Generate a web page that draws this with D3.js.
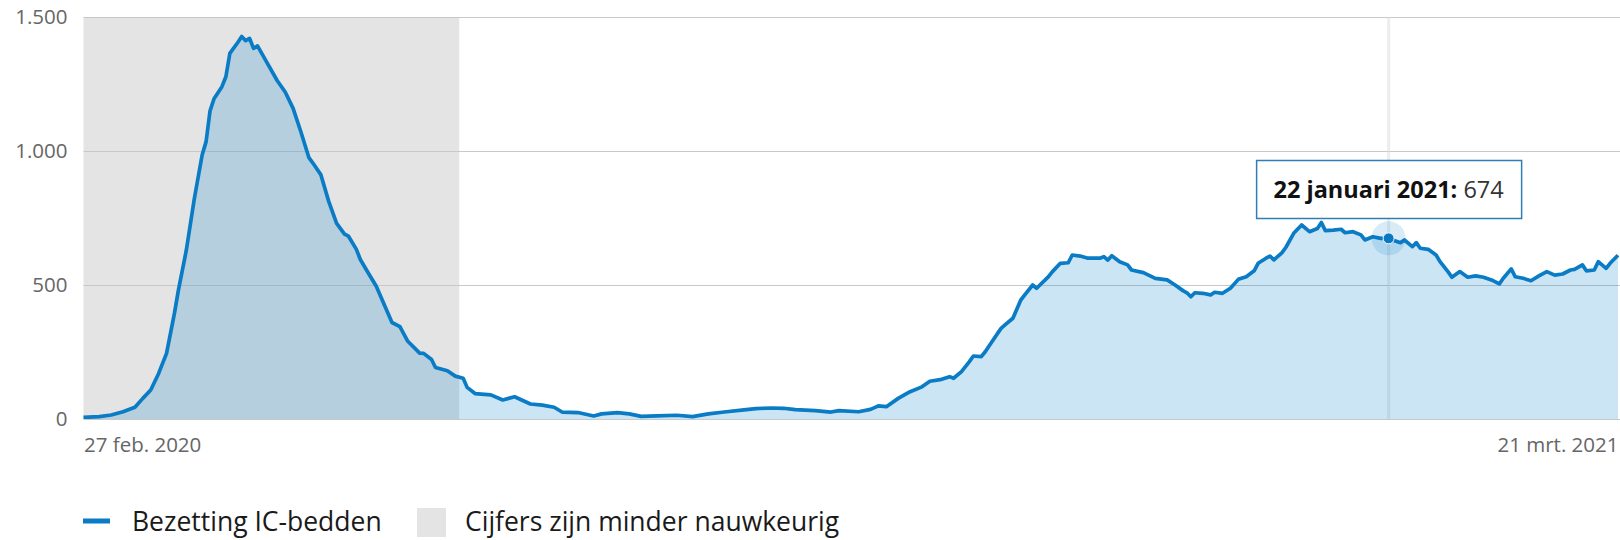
<!DOCTYPE html>
<html>
<head>
<meta charset="utf-8">
<script src="https://cdn.jsdelivr.net/npm/d3@7"></script>
<style>
body { margin: 0; background: #fff; }
text { font-family: "Open Sans", sans-serif; }
</style>
</head>
<body>
<div id="chart"></div>
<script>
// series: IC-bed occupancy, day offset from startDate -> beds
var startDate = "2020-02-27";
var endDate = "2021-03-21";
var dayIndex = [0, 4, 7, 10, 13, 15, 17, 19, 21, 23, 24, 26, 28, 30, 31, 32, 33, 35, 36, 37,
  39, 40, 41, 42, 43, 44, 46, 49, 51, 53, 55, 57, 58, 60, 62, 64, 66, 67, 69, 70,
  72, 74, 76, 78, 80, 82, 85, 86, 88, 89, 92, 94, 96, 97, 99, 103, 106, 109, 113, 116,
  119, 121, 125, 129, 131, 135, 138, 141, 145, 150, 154, 158, 162, 167, 170, 174, 177, 180, 185, 189,
  191, 196, 199, 201, 203, 206, 209, 212, 214, 217, 219, 220, 222, 224, 225, 227, 228, 230, 232, 233,
  235, 237, 238, 240, 241, 244, 245, 247, 249, 250, 252, 254, 257, 258, 259, 260, 262, 264, 265, 268,
  271, 274, 276, 278, 279, 280, 281, 283, 285, 286, 288, 290, 292, 294, 296, 297, 299, 300, 301, 303,
  304, 306, 308, 310, 312, 313, 314, 316, 318, 319, 321, 323, 324, 326, 328, 330, 331, 333, 334, 336,
  337, 338, 340, 342, 343, 345, 346, 348, 350, 352, 354, 356, 358, 359, 361, 362, 364, 366, 368, 370,
  372, 374, 376, 377, 379, 380, 382, 383, 385, 386, 388];
var beds = [6, 9, 15, 27, 44, 77, 108, 170, 245, 395, 481, 630, 820, 985, 1035, 1150, 1195, 1240, 1277, 1364,
  1405, 1427, 1412, 1420, 1383, 1392, 1340, 1262, 1220, 1159, 1070, 975, 955, 912, 812, 730, 690, 682, 633, 595,
  545, 496, 428, 360, 345, 290, 246, 245, 222, 192, 180, 160, 152, 118, 95, 90, 71, 83, 56, 52,
  44, 26, 24, 11, 19, 24, 19, 10, 12, 14, 9, 19, 26, 34, 39, 41, 40, 35, 31, 26,
  31, 27, 36, 49, 46, 77, 102, 120, 141, 148, 158, 152, 177, 214, 235, 233, 251, 295, 338, 351,
  376, 444, 463, 500, 488, 531, 550, 581, 583, 612, 608, 600, 600, 606, 593, 609, 587, 575, 556, 546,
  525, 519, 500, 479, 471, 456, 471, 469, 463, 473, 469, 488, 521, 531, 553, 581, 600, 608, 594, 620,
  640, 693, 724, 699, 711, 733, 703, 705, 708, 695, 699, 687, 668, 680, 674, 674, 668, 658, 668, 643,
  658, 637, 633, 612, 587, 550, 529, 550, 529, 534, 529, 519, 504, 525, 560, 531, 525, 516, 534, 550,
  537, 541, 556, 558, 575, 553, 556, 587, 562, 581, 611];

var inaccurateUntil = "2020-06-01";
var yTicks = [0, 500, 1000, 1500];
var yTickLabels = ["0", "500", "1.000", "1.500"];
var xTickLabels = ["27 feb. 2020", "21 mrt. 2021"];
var legendLabels = ["Bezetting IC-bedden", "Cijfers zijn minder nauwkeurig"];
var hoverDate = "2021-01-22";
var hoverValue = 674;
var hoverLabel = "22 januari 2021:";

var parse = d3.timeParse("%Y-%m-%d");
var start = parse(startDate);
var data = dayIndex.map(function (d, i) {
  return { date: d3.timeDay.offset(start, d), value: beds[i] };
});

var svg = d3.select("#chart").append("svg")
  .attr("width", 1620)
  .attr("height", 540);

var x = d3.scaleTime()
  .domain([start, parse(endDate)])
  .range([83.5, 1618]);
var y = d3.scaleLinear()
  .domain([0, 1500])
  .range([419, 17]);

// grey band: less accurate numbers
svg.append("rect")
  .attr("x", x(start))
  .attr("y", y(1500))
  .attr("width", x(parse(inaccurateUntil)) - x(start))
  .attr("height", y(0) - y(1500))
  .style("fill", "#e4e4e4");

// gridlines
svg.append("g")
  .attr("transform", "translate(83.5,0)")
  .call(d3.axisLeft(y).tickValues(yTicks).tickSize(-1540).tickFormat(""))
  .call(function (g) {
    g.select(".domain").remove();
    g.selectAll("line").attr("stroke", "#c8c8c8");
  });

// hover guide line
var hx = x(parse(hoverDate));
svg.append("line")
  .attr("x1", hx).attr("x2", hx)
  .attr("y1", y(1500)).attr("y2", y(0))
  .attr("stroke", "#dcdcdc")
  .attr("stroke-opacity", 0.5)
  .attr("stroke-width", 3);

var area = d3.area()
  .x(function (d) { return x(d.date); })
  .y0(y(0))
  .y1(function (d) { return y(d.value); });
var line = d3.line()
  .x(function (d) { return x(d.date); })
  .y(function (d) { return y(d.value); });

svg.append("path")
  .datum(data)
  .attr("d", area)
  .style("fill", "#007bc7")
  .style("fill-opacity", 0.2);

svg.append("path")
  .datum(data)
  .attr("d", line)
  .style("fill", "none")
  .attr("stroke", "#0a7bc5")
  .attr("stroke-width", 3.7)
  .attr("stroke-linejoin", "round");

// hovered point
var hy = y(hoverValue);
svg.append("circle")
  .attr("cx", hx).attr("cy", hy).attr("r", 17)
  .style("fill", "#007bc7").style("fill-opacity", 0.15);
svg.append("circle")
  .attr("cx", hx).attr("cy", hy).attr("r", 5.5)
  .style("fill", "#0a78c2")
  .attr("stroke", "#fff").attr("stroke-width", 1);

// tooltip
svg.append("rect")
  .attr("x", hx - 132).attr("y", 160.5)
  .attr("width", 265).attr("height", 58)
  .style("fill", "#fff")
  .attr("stroke", "#2f7db5").attr("stroke-width", 1.5);
var tip = svg.append("text")
  .attr("x", hx).attr("y", 198)
  .attr("text-anchor", "middle")
  .style("font-size", "23.5px")
  .style("fill", "#111");
tip.append("tspan").style("font-weight", "bold").text(hoverLabel);
tip.append("tspan").style("fill", "#333").text(" " + hoverValue);

// y axis labels
svg.append("g")
  .attr("transform", "translate(83.5,0)")
  .call(d3.axisLeft(y).tickValues(yTicks).tickSize(0).tickPadding(16)
    .tickFormat(function (d, i) { return yTickLabels[i]; }))
  .call(function (g) {
    g.select(".domain").remove();
    g.selectAll("text").style("font-size", "20.5px").style("fill", "#666")
      .style("font-family", "'Open Sans', sans-serif");
  });

// x axis labels (first and last date only)
svg.append("g")
  .attr("transform", "translate(0,419)")
  .call(d3.axisBottom(x).tickValues([start, parse(endDate)]).tickSize(0).tickPadding(18)
    .tickFormat(function (d, i) { return xTickLabels[i]; }))
  .call(function (g) {
    g.select(".domain").attr("stroke", "#c8c8c8");
    g.selectAll("text").style("font-size", "20.5px").style("fill", "#666")
      .style("font-family", "'Open Sans', sans-serif")
      .attr("text-anchor", function (d, i) { return i === 0 ? "start" : "end"; });
  });

// legend
var legend = svg.append("g").attr("transform", "translate(83,521)");
legend.append("line")
  .attr("x1", 0).attr("x2", 27)
  .attr("stroke", "#0a7bc5").attr("stroke-width", 5);
legend.append("text")
  .attr("x", 49).attr("y", 9.5)
  .style("font-size", "26.5px").style("fill", "#1a1a1a")
  .text(legendLabels[0]);
legend.append("rect")
  .attr("x", 334).attr("y", -13).attr("width", 29).attr("height", 29)
  .style("fill", "#e4e4e4");
legend.append("text")
  .attr("x", 382).attr("y", 9.5)
  .style("font-size", "26.5px").style("fill", "#1a1a1a")
  .text(legendLabels[1]);
</script>
</body>
</html>
